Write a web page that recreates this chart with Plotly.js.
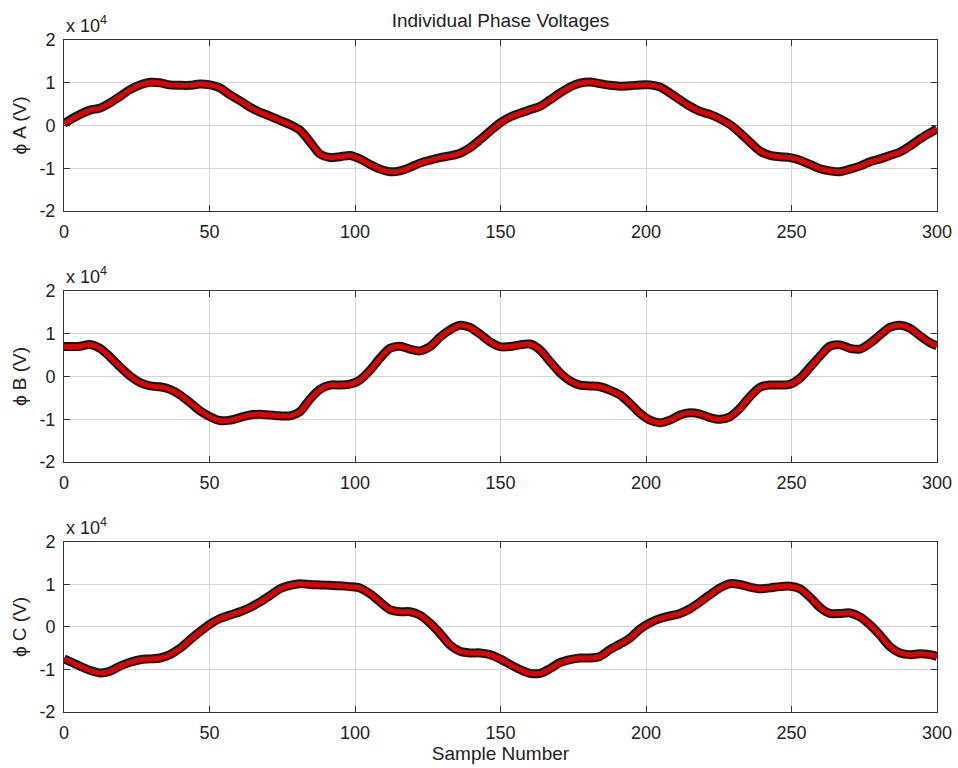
<!DOCTYPE html>
<html><head><meta charset="utf-8">
<script src="https://cdn.plot.ly/plotly-3.0.1.min.js"></script>
<style>html,body{margin:0;padding:0;background:#fff}#chart{width:958px;height:768px}</style>
</head><body><div id="chart"></div>
<script>
const samples = [0,5.5,8.9,12.4,15.8,19.2,22.7,26.1,29.6,33.0,36.4,39.9,43.3,46.7,50.2,53.6,57.0,60.5,63.9,67.4,70.8,74.2,77.7,81.1,84.5,88.0,91.4,94.8,98.3,101.7,105.2,108.6,112.0,115.5,118.9,122.3,125.8,129.2,132.6,136.1,139.5,143.0,146.4,149.8,153.3,156.7,160.1,163.6,167.0,170.4,173.9,177.3,180.8,184.2,187.6,191.1,194.5,197.9,201.4,204.8,208.2,211.7,215.1,218.6,222.0,225.4,228.9,232.3,235.7,239.2,242.6,246.0,249.5,252.9,256.4,259.8,263.2,266.7,270.1,273.5,277.0,280.4,283.8,287.3,290.7,294.2,297.6,300];
const phaseA = [500,2600,3600,4100,5300,6800,8400,9500,10100,10000,9500,9400,9400,9700,9500,8800,7200,5800,4300,3100,2200,1200,200,-1100,-3800,-6700,-7500,-7300,-7000,-7800,-9100,-10200,-10800,-10600,-9800,-8800,-8100,-7500,-7100,-6500,-5200,-3300,-1300,600,2000,2900,3700,4500,6000,7600,9000,9900,10200,9800,9400,9200,9300,9500,9500,9000,7600,6000,4500,3300,2600,1600,200,-1700,-3900,-6000,-7000,-7300,-7500,-8100,-9100,-10100,-10600,-10800,-10200,-9500,-8500,-7800,-7000,-6200,-4800,-3100,-1700,-800];
const phaseB = [7000,7100,7500,6600,4600,2300,100,-1400,-2200,-2400,-3000,-4300,-6100,-8000,-9400,-10300,-10200,-9600,-9000,-8800,-9000,-9200,-9200,-8200,-5300,-3000,-2000,-2000,-1800,-800,1500,4300,6600,7100,6400,6000,7000,9200,10900,12000,11500,9900,8100,7000,7000,7400,7600,6200,3500,900,-1000,-2000,-2200,-2400,-3200,-4300,-6300,-8600,-10200,-10800,-10200,-9000,-8500,-8800,-9600,-10000,-9400,-7400,-4700,-2500,-2000,-2000,-1800,-400,2200,4800,7100,7400,6600,6400,7800,9700,11500,12000,11300,9500,7900,7200];
const phaseC = [-7500,-9200,-10200,-10800,-10400,-9200,-8300,-7700,-7500,-7300,-6500,-5000,-3000,-1100,700,2000,2800,3600,4600,5900,7400,9000,9800,10200,10000,9900,9800,9700,9500,9200,7800,5900,4100,3600,3600,2800,900,-1500,-4200,-5700,-6100,-6100,-6500,-7500,-8800,-10000,-10900,-10900,-9800,-8400,-7700,-7300,-7300,-6900,-5300,-4000,-2600,-500,1000,2000,2600,3200,4300,5900,7600,9200,10200,10000,9400,9000,9200,9500,9600,9000,7000,4600,3200,3200,3300,2400,500,-1900,-4600,-6100,-6500,-6300,-6500,-6900];
const yTickVals = [-20000,-10000,0,10000,20000];
const yTickText = ['-2','-1','0','1','2'];
const xTickVals = [0,50,100,150,200,250,300];
const phaseLabels = ['\u03D5 A (V)','\u03D5 B (V)','\u03D5 C (V)'];
const titleText = 'Individual Phase Voltages';
const xTitle = 'Sample Number';
const scaleText = 'x 10<sup>4</sup>';

const series = [phaseA, phaseB, phaseC];
const domains = [[0.7455,1],[0.372,0.6265],[0,0.253]];
const font = 'Liberation Sans, Arial, Helvetica, sans-serif';
const traces = [];
const layout = {
  width:958, height:768,
  margin:{l:64, r:21, t:40, b:56},
  paper_bgcolor:'#fff', plot_bgcolor:'#fff',
  showlegend:false,
  font:{family:font, size:18, color:'#222'},
  title:{text:titleText, x:0.5, xref:'paper', y:1-20/768, yref:'container', yanchor:'middle', xanchor:'center', font:{size:19, color:'#222'}},
  annotations:[]
};
series.forEach((ys,i)=>{
  const sfx = i===0?'':String(i+1);
  traces.push({x:samples,y:ys,xaxis:'x'+sfx,yaxis:'y'+sfx,mode:'lines',line:{color:'#161616',width:9,shape:'spline',smoothing:0.8},hoverinfo:'skip'});
  traces.push({x:samples,y:ys,xaxis:'x'+sfx,yaxis:'y'+sfx,mode:'lines',line:{color:'#dd0000',width:5,shape:'spline',smoothing:0.8}});
  const xa = {
    domain:[0,1], anchor:'y'+sfx, range:[0,300], tickvals:xTickVals, ticktext:xTickVals.map(String),
    ticks:'inside', ticklen:6, tickcolor:'#333', showline:true, mirror:'ticks', linecolor:'#333', linewidth:1,
    showgrid:true, gridcolor:'#d4d4d4', gridwidth:1, zeroline:false, ticklabelstandoff:4,
    tickfont:{size:18, color:'#222', family:font}
  };
  if (i===2) xa.title = {text:xTitle, standoff:5, font:{size:19, color:'#222'}};
  layout['xaxis'+sfx] = xa;
  layout['yaxis'+sfx] = {
    domain:domains[i], anchor:'x'+sfx, range:[-20000,20000], tickvals:yTickVals, ticktext:yTickText,
    ticks:'inside', ticklen:6, tickcolor:'#333', showline:true, mirror:'ticks', linecolor:'#333', linewidth:1,
    showgrid:true, gridcolor:'#d4d4d4', gridwidth:1, zeroline:false, ticklabelstandoff:4,
    tickfont:{size:18, color:'#222', family:font},
    title:{text:phaseLabels[i], standoff:7, font:{size:19, color:'#222'}}
  };
  layout.annotations.push({text:scaleText, xref:'paper', yref:'paper', x:0, y:domains[i][1], xanchor:'left', yanchor:'bottom', yshift:2, showarrow:false, font:{size:18, color:'#222', family:font}});
});
Plotly.newPlot('chart', traces, layout, {displayModeBar:false, staticPlot:true});
</script></body></html>
